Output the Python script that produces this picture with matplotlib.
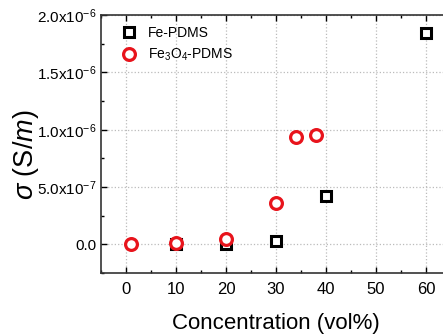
import matplotlib
matplotlib.use("Agg")
import matplotlib.pyplot as plt
from matplotlib.ticker import MultipleLocator

plt.rcParams['font.family'] = ['Liberation Sans', 'DejaVu Sans']
plt.rcParams['mathtext.fontset'] = 'custom'
plt.rcParams['mathtext.rm'] = 'Liberation Sans'
plt.rcParams['mathtext.it'] = 'Liberation Sans:italic'

fe_x = [10, 20, 30, 40, 60]
fe_y = [0.0, 0.0, 3.0e-8, 4.2e-7, 1.84e-6]
feo_x = [1, 10, 20, 30, 34, 38]
feo_y = [0.0, 1.5e-8, 5.0e-8, 3.6e-7, 9.35e-7, 9.55e-7]

x_ticks = [0, 10, 20, 30, 40, 50, 60]
y_ticks = [0.0, 5e-7, 1e-6, 1.5e-6, 2e-6]
y_labels = ['0.0', '5.0x10$^{-7}$', '1.0x10$^{-6}$', '1.5x10$^{-6}$', '2.0x10$^{-6}$']

fig = plt.figure(figsize=(4.43, 3.36), dpi=100)
ax = fig.add_axes([0.228, 0.187, 0.79, 0.768])

ax.plot(fe_x, fe_y, linestyle='none', marker='s', markersize=7,
        markerfacecolor='white', markeredgecolor='black', markeredgewidth=2.2,
        label='Fe-PDMS', zorder=3)
ax.plot(feo_x, feo_y, linestyle='none', marker='o', markersize=8.5,
        markerfacecolor='white', markeredgecolor='#e8141c', markeredgewidth=2.3,
        label='Fe$_3$O$_4$-PDMS', zorder=4)

ax.set_xlim(-5, 65)
ax.set_ylim(-2.5e-7, 2.0e-6)
ax.set_xticks(x_ticks)
ax.set_yticks(y_ticks)
ax.set_yticklabels(y_labels)
ax.xaxis.set_minor_locator(MultipleLocator(5))
ax.yaxis.set_minor_locator(MultipleLocator(2.5e-7))
ax.tick_params(which='both', direction='in', top=True, right=False)
ax.tick_params(axis='x', labelsize=12, pad=6)
ax.tick_params(axis='y', labelsize=11, pad=3)
ax.tick_params(which='major', length=4, width=1)
ax.tick_params(which='minor', length=2, width=1)
ax.grid(True, which='major', linestyle=':', color='#bbbbbb', linewidth=0.9)
for s in ax.spines.values():
    s.set_linewidth(1.2)
    s.set_color('#333333')

fig.text(0.5 * (173 + 378) / 443, 1 - 323 / 336, 'Concentration (vol%)',
         fontsize=16, ha='center', va='center')
fig.text(26 / 443, 1 - 155 / 336, r'$\mathit{\sigma}$ (S/$\mathit{m}$)',
         fontsize=19.5, rotation=90, ha='center', va='center')

leg = ax.legend(loc='upper left', bbox_to_anchor=(0.043, 0.98), frameon=False,
                fontsize=10, handletextpad=0.9, borderaxespad=0.0,
                labelspacing=0.5, handlelength=1.0)

fig.savefig('out.png', dpi=100)
